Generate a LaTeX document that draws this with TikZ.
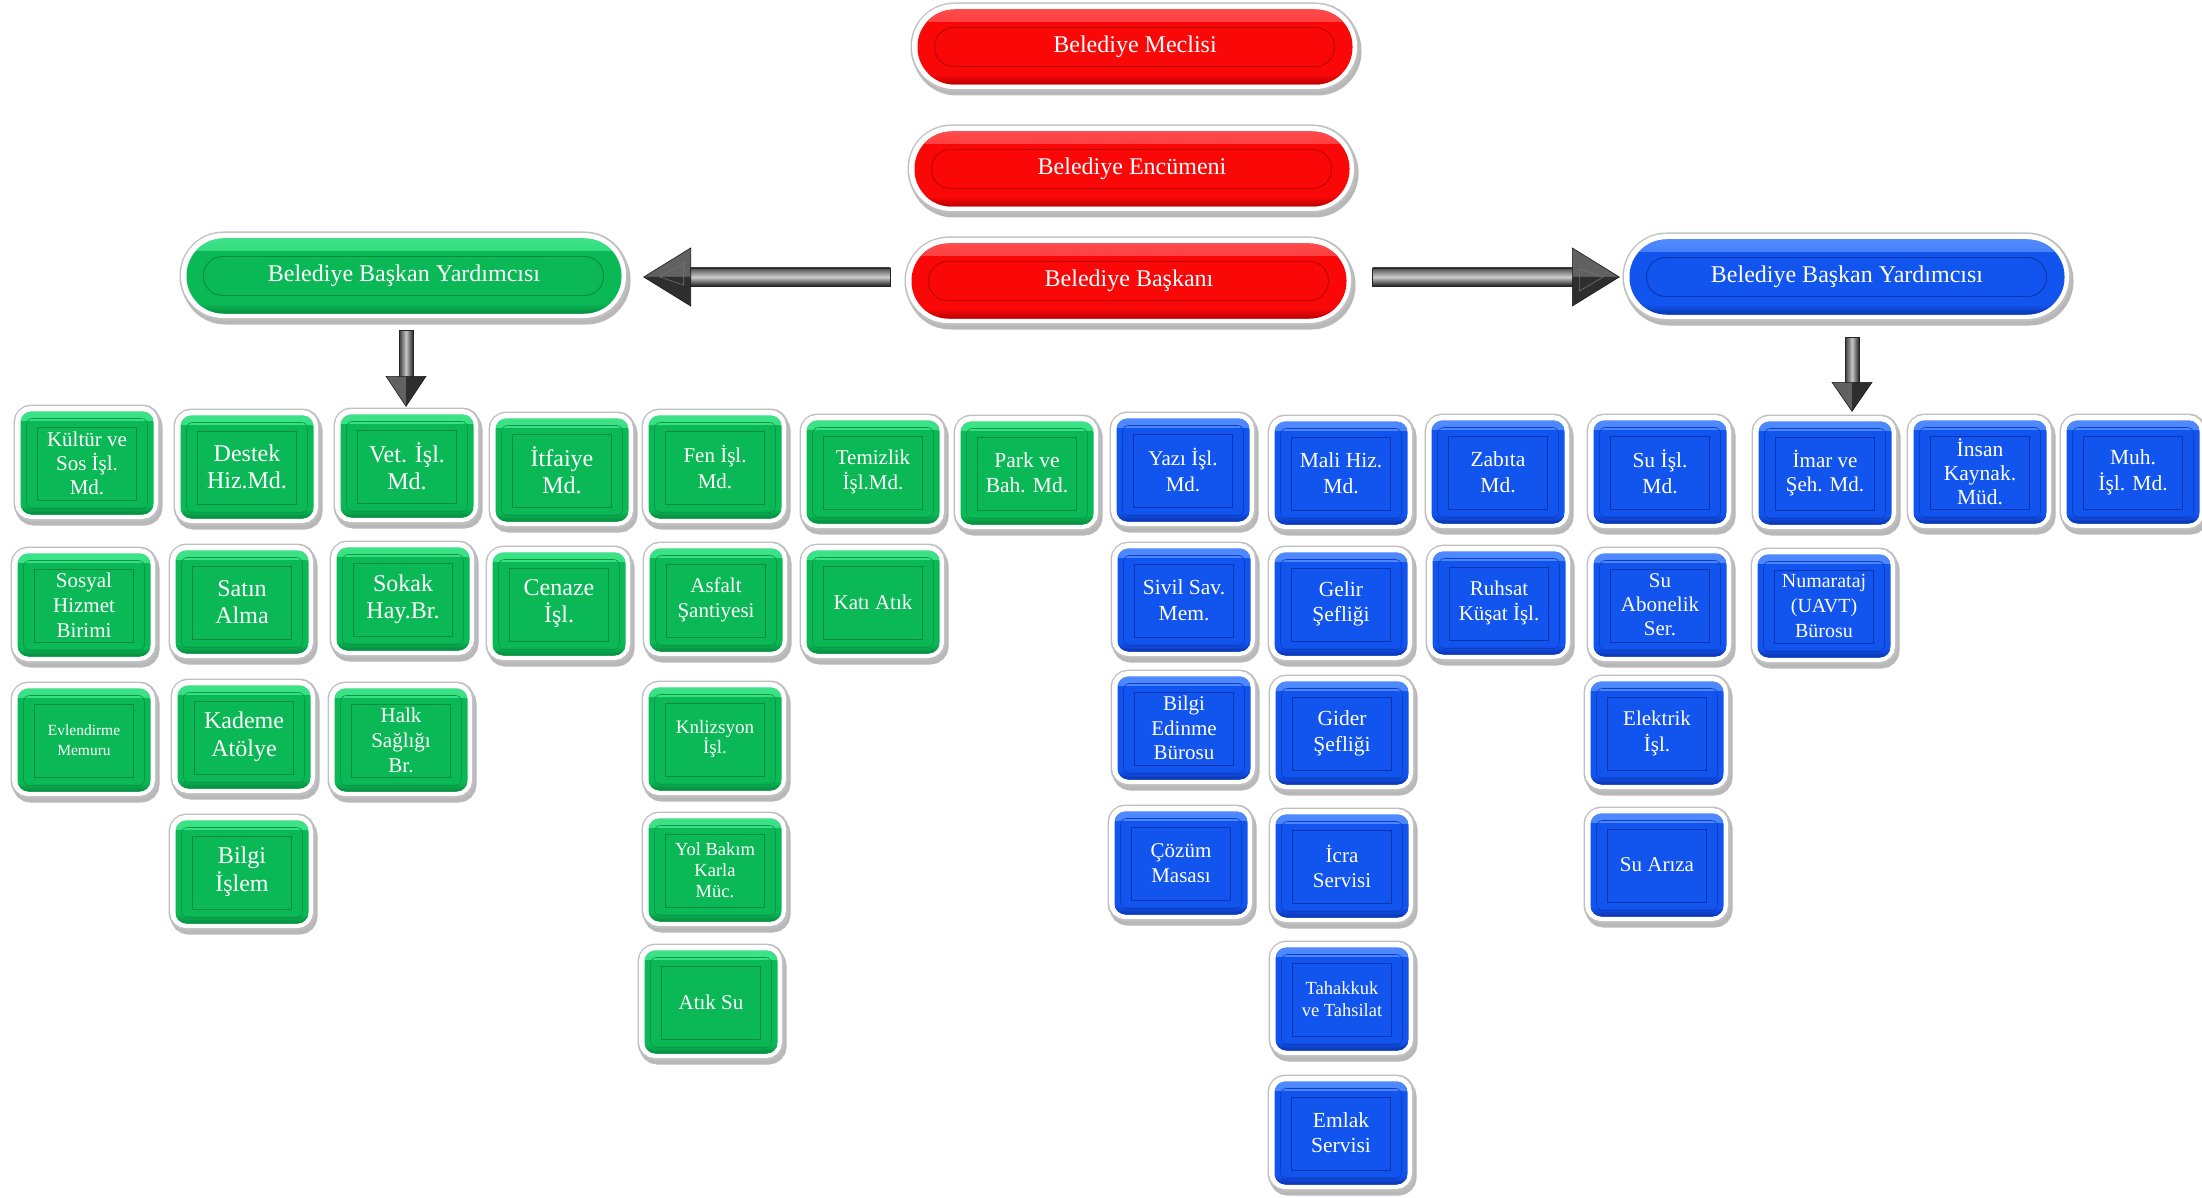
\documentclass[tikz,border=0pt]{standalone}
\usepackage{fontspec}
\setmainfont{Liberation Serif}
\usetikzlibrary{calc}
\definecolor{gMain}{RGB}{11,184,86}
\definecolor{gLight}{RGB}{60,228,135}
\definecolor{gDark}{RGB}{6,138,62}
\definecolor{bMain}{RGB}{18,84,238}
\definecolor{bLight}{RGB}{80,138,255}
\definecolor{bDark}{RGB}{10,52,175}
\definecolor{rMain}{RGB}{250,8,8}
\definecolor{rLight}{RGB}{255,75,75}
\definecolor{rDark}{RGB}{185,0,0}
\newcommand\fsz[2]{\fontsize{#1}{#2}\selectfont}
\newcommand\boxdeco[3]{%
  \shade[sharp corners,top color=#1,bottom color=#2] (path picture bounding box.north west) rectangle ([yshift=-9pt]path picture bounding box.north east);
  \shade[sharp corners,top color=#2,bottom color=#3] ([yshift=9pt]path picture bounding box.south west) rectangle (path picture bounding box.south east);
  \draw[#3!70!#2,line width=0.6pt,rounded corners=6pt] ([xshift=6pt,yshift=-7pt]path picture bounding box.north west) rectangle ([xshift=-6pt,yshift=6pt]path picture bounding box.south east);
  \draw[sharp corners,#3,line width=0.9pt] ([xshift=17pt,yshift=-16pt]path picture bounding box.north west) rectangle ([xshift=-17pt,yshift=14pt]path picture bounding box.south east);
}
\newcommand\pilldeco[3]{%
  \shade[sharp corners,top color=#1,bottom color=#2] (path picture bounding box.north west) rectangle ([yshift=-12pt]path picture bounding box.north east);
  \shade[sharp corners,top color=#2,bottom color=#3] ([yshift=10pt]path picture bounding box.south west) rectangle (path picture bounding box.south east);
  \draw[#3,line width=0.9pt,rounded corners=19pt] ([xshift=17pt,yshift=-18pt]path picture bounding box.north west) rectangle ([xshift=-18pt,yshift=18pt]path picture bounding box.south east);
}
\tikzset{
  ring/.style={
    preaction={draw=black,opacity=0.28,line width=14pt,transform canvas={shift={(2pt,-4pt)}}},
    preaction={draw=gray!50,line width=14pt},
    preaction={draw=white,line width=10pt,transform canvas={shift={(-0.5pt,0.5pt)}}}},
  box/.style={rectangle,rounded corners=11pt,minimum width=133pt,minimum height=103pt,
    inner sep=0pt,text=white,align=center,ring},
  gbox/.style={box,fill=gMain,path picture={\boxdeco{gLight}{gMain}{gDark}}},
  bbox/.style={box,fill=bMain,path picture={\boxdeco{bLight}{bMain}{bDark}}},
  pill/.style={rectangle,rounded corners=37pt,minimum width=435pt,minimum height=75pt,
    inner sep=0pt,text=white,align=center,ring,font=\fsz{24}{28}},
  rpill/.style={pill,fill=rMain,path picture={\pilldeco{rLight}{rMain}{rDark}}},
  gpill/.style={pill,fill=gMain,path picture={\pilldeco{gLight}{gMain}{gDark}}},
  bpill/.style={pill,fill=bMain,path picture={\pilldeco{bLight}{bMain}{bDark}}},
  shaftH/.style={top color=black!70,bottom color=black!88,middle color=gray!40,draw=black!85,line width=0.5pt},
  shaftV/.style={left color=black!78,right color=black!85,middle color=gray!45,draw=black!85,line width=0.5pt},
  headA/.style={fill=black!62},
  headB/.style={fill=black!82},
  headline/.style={draw=black!90,line width=0.6pt},
  facet/.style={draw=black!55,line width=0.6pt}
}
\begin{document}
\begin{tikzpicture}[x=1pt,y=-1pt]
\useasboundingbox (0,0) rectangle (2202,1198);
\fill[white] (0,0) rectangle (2202,1198);

% top pills
\node[rpill] (meclis) at (1135,47) {Belediye Meclisi};
\node[rpill] (encumen) at (1132,169) {Belediye Encümeni};
\node[rpill] (baskan) at (1129,281) {Belediye Başkanı};
\node[gpill] (gby) at (404,276) {Belediye Başkan Yardımcısı};
\node[bpill] (bby) at (1847,277) {Belediye Başkan Yardımcısı};

% green boxes
\node[gbox,font=\fsz{21}{24}] (kultur) at (87,463) {Kültür ve\\Sos İşl.\\Md.};
\node[gbox,font=\fsz{21}{25}] (sosyal) at (84,605) {Sosyal\\Hizmet\\Birimi};
\node[gbox,font=\fsz{15.5}{20}] (evlen) at (84,740) {Evlendirme\\Memuru};
\node[gbox,font=\fsz{24}{27}] (destek) at (247,467) {Destek\\Hiz.Md.};
\node[gbox,font=\fsz{24}{27}] (satin) at (242,602) {Satın\\Alma};
\node[gbox,font=\fsz{24}{28}] (kademe) at (244,737) {Kademe\\Atölye};
\node[gbox,font=\fsz{24}{28}] (bilgiislem) at (242,872) {Bilgi\\İşlem};
\node[gbox,font=\fsz{24}{27}] (vet) at (407,466) {Vet. İşl.\\Md.};
\node[gbox,font=\fsz{24}{27}] (sokak) at (403,599) {Sokak\\Hay.Br.};
\node[gbox,font=\fsz{21}{25}] (halk) at (401,740) {Halk\\Sağlığı\\Br.};
\node[gbox,font=\fsz{24}{27}] (itfaiye) at (562,470) {İtfaiye\\Md.};
\node[gbox,font=\fsz{24}{27}] (cenaze) at (559,604) {Cenaze\\İşl.};
\node[gbox,font=\fsz{21}{26}] (fen) at (715,467) {Fen İşl.\\Md.};
\node[gbox,font=\fsz{21}{25}] (asfalt) at (716,600) {Asfalt\\Şantiyesi};
\node[gbox,font=\fsz{19}{20}] (knl) at (715,739) {Knlizsyon\\İşl.};
\node[gbox,font=\fsz{18.5}{21}] (yol) at (715,870) {Yol Bakım\\Karla\\Müc.};
\node[gbox,font=\fsz{21}{25}] (atiksu) at (711,1002) {Atık Su};
\node[gbox,font=\fsz{21}{25}] (temizlik) at (873,472) {Temizlik\\İşl.Md.};
\node[gbox,font=\fsz{21}{25}] (kati) at (873,602) {Katı Atık};
\node[gbox,font=\fsz{21.5}{25}] (park) at (1027,473) {Park ve\\Bah. Md.};

% blue boxes
\node[bbox,font=\fsz{21}{26}] (yazi) at (1183,470) {Yazı İşl.\\Md.};
\node[bbox,font=\fsz{21.5}{26}] (sivil) at (1184,600) {Sivil Sav.\\Mem.};
\node[bbox,font=\fsz{21}{24.5}] (bilgied) at (1184,728) {Bilgi\\Edinme\\Bürosu};
\node[bbox,font=\fsz{21}{25}] (cozum) at (1181,863) {Çözüm\\Masası};
\node[bbox,font=\fsz{21.5}{26}] (mali) at (1341,473) {Mali Hiz.\\Md.};
\node[bbox,font=\fsz{21.5}{25}] (gelir) at (1341,604) {Gelir\\Şefliği};
\node[bbox,font=\fsz{21.5}{26}] (gider) at (1342,733) {Gider\\Şefliği};
\node[bbox,font=\fsz{21}{25}] (icra) at (1342,866) {İcra\\Servisi};
\node[bbox,font=\fsz{18.5}{22}] (tahakkuk) at (1342,999) {Tahakkuk\\ve Tahsilat};
\node[bbox,font=\fsz{21.5}{25}] (emlak) at (1341,1133) {Emlak\\Servisi};
\node[bbox,font=\fsz{21.5}{26}] (zabita) at (1498,472) {Zabıta\\Md.};
\node[bbox,font=\fsz{21}{25}] (ruhsat) at (1499,603) {Ruhsat\\Küşat İşl.};
\node[bbox,font=\fsz{21.5}{26}] (suisl) at (1660,472) {Su İşl.\\Md.};
\node[bbox,font=\fsz{21}{24}] (suabone) at (1660,605) {Su\\Abonelik\\Ser.};
\node[bbox,font=\fsz{21}{26}] (elektrik) at (1657,733) {Elektrik\\İşl.};
\node[bbox,font=\fsz{21}{25}] (suariza) at (1657,865) {Su Arıza};
\node[bbox,font=\fsz{21}{24}] (imar) at (1825,473) {İmar ve\\Şeh. Md.};
\node[bbox,font=\fsz{20}{25}] (numarataj) at (1824,606) {Numarataj\\(UAVT)\\Bürosu};
\node[bbox,font=\fsz{21.5}{24}] (insan) at (1980,472) {İnsan\\Kaynak.\\Müd.};
\node[bbox,font=\fsz{21.5}{26}] (muh) at (2133,472) {Muh.\\İşl. Md.};

% left arrow: baskan -> gby
\coordinate (la) at ($(baskan.west)+(-21,-4)$);
\coordinate (lt) at ($(gby.east |- la)+(22,0)$);
\shade[shaftH] ($(lt)+(46,-9)$) rectangle ($(la)+(0,9)$);
\path[headA] (lt) -- ($(lt)+(47,-29)$) -- ($(lt)+(47,0)$) -- cycle;
\path[headB] (lt) -- ($(lt)+(47,29)$) -- ($(lt)+(47,0)$) -- cycle;
\path[headline] (lt) -- ($(lt)+(47,-29)$) -- ($(lt)+(47,29)$) -- cycle;
\draw[facet] ($(lt)+(16,0)$) -- ($(lt)+(40,-14)$) -- ($(lt)+(40,8)$) -- cycle;

% right arrow: baskan -> bby
\coordinate (ra) at ($(baskan.east)+(26,-4)$);
\coordinate (rt) at ($(bby.west |- ra)+(-10,0)$);
\shade[shaftH] ($(ra)+(0,-9)$) rectangle ($(rt)+(-46,9)$);
\path[headA] (rt) -- ($(rt)+(-47,-29)$) -- ($(rt)+(-47,0)$) -- cycle;
\path[headB] (rt) -- ($(rt)+(-47,29)$) -- ($(rt)+(-47,0)$) -- cycle;
\path[headline] (rt) -- ($(rt)+(-47,-29)$) -- ($(rt)+(-47,29)$) -- cycle;
\draw[facet] ($(rt)+(-16,0)$) -- ($(rt)+(-40,-8)$) -- ($(rt)+(-40,14)$) -- cycle;

% down arrow: gby -> vet
\coordinate (ga) at ($(gby.south)+(2,17)$);
\coordinate (gt) at ($(ga |- vet.north)+(0,-8)$);
\shade[shaftV] ($(ga)+(-7,0)$) rectangle ($(gt)+(7,-29)$);
\path[headA] (gt) -- ($(gt)+(-20,-30)$) -- ($(gt)+(0,-30)$) -- cycle;
\path[headB] (gt) -- ($(gt)+(20,-30)$) -- ($(gt)+(0,-30)$) -- cycle;
\path[headline] (gt) -- ($(gt)+(-20,-30)$) -- ($(gt)+(20,-30)$) -- cycle;

% down arrow: bby -> imar
\coordinate (ba) at ($(bby.south)+(5,23)$);
\coordinate (bt) at ($(ba |- imar.north)+(0,-10)$);
\shade[shaftV] ($(ba)+(-7,0)$) rectangle ($(bt)+(7,-28)$);
\path[headA] (bt) -- ($(bt)+(-20,-29)$) -- ($(bt)+(0,-29)$) -- cycle;
\path[headB] (bt) -- ($(bt)+(20,-29)$) -- ($(bt)+(0,-29)$) -- cycle;
\path[headline] (bt) -- ($(bt)+(-20,-29)$) -- ($(bt)+(20,-29)$) -- cycle;
\end{tikzpicture}
\end{document}
